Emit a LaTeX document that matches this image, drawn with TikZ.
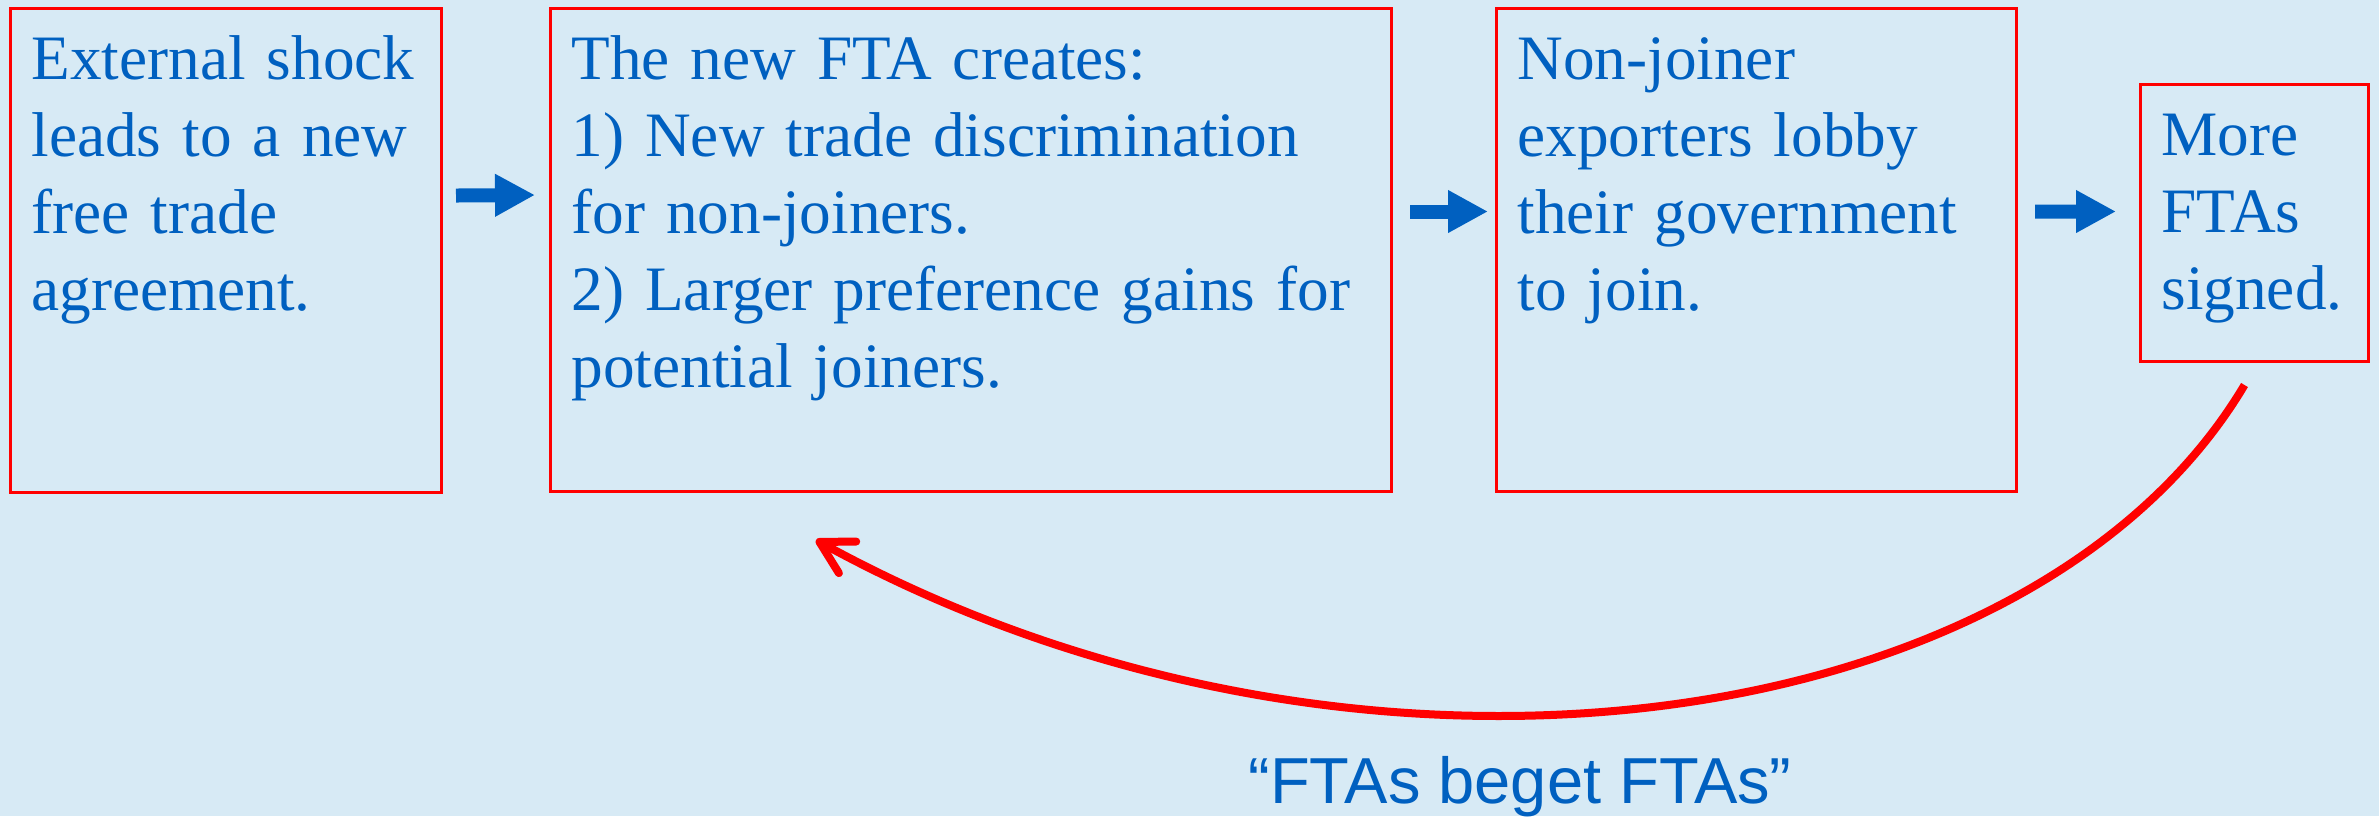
\documentclass[tikz,border=0pt]{standalone}
\usepackage{fontspec}
\setmainfont{Liberation Serif}
\newfontfamily\mottofont{Liberation Sans}
\usetikzlibrary{positioning,arrows.meta}
\definecolor{ftablue}{RGB}{0,96,192}
\definecolor{slidebg}{RGB}{215,234,245}
\newcommand{\boxfont}{\fontsize{18pt}{21.9pt}\selectfont}
\begin{document}
\begin{tikzpicture}[x=1mm, y=1mm,
    stage/.style = {draw=red, line width=0.3mm, anchor=north west, align=left, text=ftablue, font=\boxfont,
                    inner xsep=2.1mm, inner ysep=1.7mm, text height=5.4mm},
    flow/.style = {ftablue, line width=1.4mm, -{Triangle[length=4mm, width=4mm]}},
    feedback/.style = {red, line width=0.8mm, -{Straight Barb[round, length=3.2mm, width=3.6mm]}}]
    \fill[slidebg] (0,0) rectangle (237.9,-81.6);
    \useasboundingbox (0,0) rectangle (237.9,-81.6);

    \node[stage, text width=38.9mm, text depth=39.6mm] (shock) at (0.9,-0.7) {External shock\\leads to a new\\free trade\\agreement.};
    \node[stage, text width=79.9mm, text depth=39.5mm] (fta) [right=10.6mm of shock.north east, anchor=north west]
        {The new FTA creates:\\1) New trade discrimination\\for non-joiners.\\2) Larger preference gains for\\potential joiners.};
    \node[stage, text width=47.8mm, text depth=39.5mm] (lobby) [right=10.2mm of fta.north east, anchor=north west]
        {Non-joiner\\exporters lobby\\their government\\to join.};
    \node[stage, text width=18.6mm, text depth=18.9mm] (more) at (213.9,-8.3) {More\\FTAs\\signed.};
    \node[text=ftablue, font={\mottofont\fontsize{18.5pt}{22pt}\selectfont}, anchor=base, inner sep=0pt] (motto) at (152,-80.3) {“FTAs beget FTAs”};

    \draw[flow] ([xshift=1.3mm, yshift=5.5mm]shock.east) -- ([xshift=-1.4mm, yshift=5.5mm]fta.west);
    \draw[flow] ([xshift=1.7mm, yshift=3.85mm]fta.east) -- ([xshift=-0.7mm, yshift=3.85mm]lobby.west);
    \draw[flow] ([xshift=1.7mm, yshift=3.85mm]lobby.east) -- ([xshift=-2.3mm, yshift=1.15mm]more.west);

    % loop back to the new FTA
    \coordinate (loopstart) at ([xshift=-1mm, yshift=-2.2mm]more.south);
    \draw[feedback] (loopstart) .. controls +(-21.3,-35.8) and +(53.4,-29.3) .. ([xshift=26.7mm, yshift=-4.7mm]fta.south west);
\end{tikzpicture}
\end{document}
